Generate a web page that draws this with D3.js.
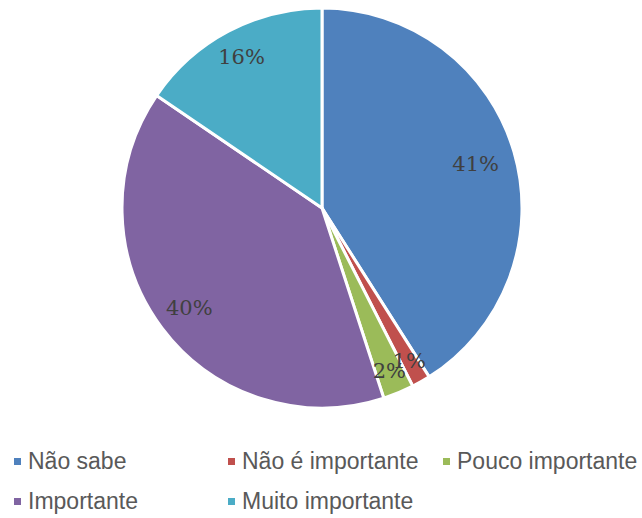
<!DOCTYPE html>
<html>
<head>
<meta charset="utf-8">
<script src="https://cdn.jsdelivr.net/npm/d3@7/dist/d3.min.js"></script>
<style>
  html, body { margin: 0; padding: 0; background: #fff; }
  svg { display: block; }
</style>
</head>
<body>
<svg id="chart" width="642" height="518"></svg>
<script>
const categories = ["Não sabe", "Não é importante", "Pouco importante", "Importante", "Muito importante"];
const values = [41.0, 1.5, 2.5, 39.5, 15.5];
const colors = ["#4F81BD", "#C0504D", "#9BBB59", "#8064A2", "#4BACC6"];
const labels = ["41%", "1%", "2%", "40%", "16%"];

const svg = d3.select("#chart");
const cx = 322, cy = 208, R = 200;
// label radial placement (style, fraction of radius)
const labelRadius = [0.8, 0.88, 0.88, 0.83, 0.86];

const data = categories.map((c, i) => ({ cat: c, value: values[i], color: colors[i], label: labels[i], lr: labelRadius[i] }));

const pie = d3.pie().value(d => d.value).sort(null);
const arcs = pie(data);
const arc = d3.arc().innerRadius(0).outerRadius(R);

const g = svg.append("g").attr("transform", `translate(${cx},${cy})`);
g.selectAll("path.slice").data(arcs).enter().append("path")
  .attr("class", "slice")
  .attr("d", arc)
  .attr("fill", d => d.data.color)
  .attr("stroke", "#fff")
  .attr("stroke-width", 3)
  .attr("stroke-linejoin", "round");

g.selectAll("text.lbl").data(arcs).enter().append("text")
  .attr("class", "lbl")
  .attr("transform", d => {
    const a = (d.startAngle + d.endAngle) / 2;
    const r = R * d.data.lr;
    return `translate(${r * Math.sin(a)},${-r * Math.cos(a)})`;
  })
  .attr("text-anchor", "middle")
  .attr("dy", "0.36em")
  .attr("font-family", "'DejaVu Serif', serif")
  .attr("font-size", 21)
  .attr("fill", "#404040")
  .text(d => d.data.label);

// legend
const legendPos = [[14, 469], [228, 469], [443, 469], [14, 509], [228, 509]];
const lg = svg.append("g");
const items = lg.selectAll("g.item").data(data).enter().append("g")
  .attr("class", "item")
  .attr("transform", (d, i) => `translate(${legendPos[i][0]},${legendPos[i][1]})`);
items.append("rect")
  .attr("x", 0).attr("y", -11).attr("width", 7).attr("height", 7)
  .attr("fill", d => d.color);
items.append("text")
  .attr("x", 14).attr("y", 0)
  .attr("font-family", "'Liberation Sans', Arial, sans-serif")
  .attr("font-size", 23)
  .attr("fill", "#595959")
  .text(d => d.cat);
</script>
</body>
</html>
